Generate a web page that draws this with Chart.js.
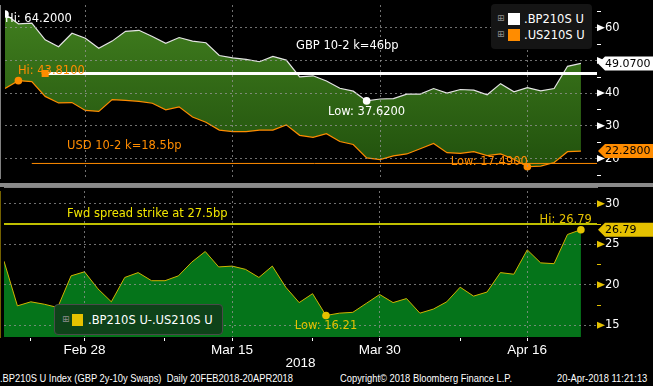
<!DOCTYPE html>
<html>
<head>
<meta charset="utf-8">
<script src="https://cdn.jsdelivr.net/npm/chart.js@4.4.1/dist/chart.umd.min.js"></script>
<style>
  body { margin:0; background:#000; width:653px; height:386px; overflow:hidden; position:relative; font-family:"DejaVu Sans", sans-serif; color:#fff; }
  canvas { position:absolute; left:0; }
  #top { top:0; }
  #bot { top:187px; }
  #sep { position:absolute; left:0; top:183px; width:653px; height:4px; background:#8a8a8a; }
  .lg { position:absolute; border-radius:4px; }
  .pl { position:absolute; font-size:9px; color:#8c8c8c; line-height:9px; }
  .sw { position:absolute; }
  .tx { position:absolute; font-size:11.5px; line-height:14px; color:#fff; }
  .ft { position:absolute; top:371px; font-family:"Liberation Sans",sans-serif; font-size:11px; line-height:15px; color:#fff;
        white-space:nowrap; transform:scaleX(0.85); transform-origin:0 50%; }
</style>
</head>
<body>
<canvas id="top" width="653" height="183"></canvas>
<div id="sep"></div>
<canvas id="bot" width="653" height="184"></canvas>

<div class="lg" style="left:491px;top:4px;width:101px;height:45px;background:#151515;"></div>
<span class="pl" style="left:497px;top:14px;">⊞</span>
<span class="sw" style="left:508px;top:13px;width:12px;height:12px;background:#fff;"></span>
<span class="tx" style="left:524px;top:12px;">.BP210S U</span>
<span class="pl" style="left:497px;top:30px;">⊞</span>
<span class="sw" style="left:508px;top:29px;width:12px;height:12px;background:#ff8c00;"></span>
<span class="tx" style="left:524px;top:28px;">.US210S U</span>

<div class="lg" style="left:54px;top:304px;width:167px;height:29px;background:#0e4219;border:1px solid #4a4a4a;"></div>
<span class="pl" style="left:62px;top:315px;">⊞</span>
<span class="sw" style="left:72px;top:314px;width:11px;height:12px;background:#e5c100;"></span>
<span class="tx" style="left:88px;top:313px;">.BP210S U-.US210S U</span>

<span class="ft" style="left:0px;">.BP210S U Index (GBP 2y-10y Swaps)&nbsp; Daily 20FEB2018-20APR2018</span>
<span class="ft" style="left:340px;">Copyright© 2018 Bloomberg Finance L.P.</span>
<span class="ft" style="left:557px;">20-Apr-2018 11:21:13</span>

<script>
// business days shown on the x axis
const dates = ['Feb 20','Feb 21','Feb 22','Feb 23','Feb 26','Feb 27','Feb 28','Mar 1','Mar 2','Mar 5','Mar 6','Mar 7','Mar 8','Mar 9',
  'Mar 12','Mar 13','Mar 14','Mar 15','Mar 16','Mar 19','Mar 20','Mar 21','Mar 22','Mar 23','Mar 26','Mar 27','Mar 28','Mar 29','Mar 30',
  'Apr 2','Apr 3','Apr 4','Apr 5','Apr 6','Apr 9','Apr 10','Apr 11','Apr 12','Apr 13','Apr 16','Apr 17','Apr 18','Apr 19','Apr 20'];

// .BP210S U (GBP 2y-10y)
const gbp = [64.20,61.2,61.4,56.3,54.2,58.3,56.8,53.7,55.9,58.9,59.2,57.3,55.2,57.0,55.9,55.4,51.5,50.8,50.3,49.6,51.2,50.1,
  45.0,45.3,43.7,41.5,40.6,37.62,38.2,38.3,39.7,39.7,41.4,40.0,41.1,40.9,39.5,42.9,40.4,41.7,40.7,41.4,48.2,49.07];
// .US210S U (USD 2y-10y)
const usd = [41.4,43.81,43.5,39.0,37.0,37.1,34.7,34.4,38.0,37.8,37.5,36.9,34.9,35.8,32.7,31.1,28.7,28.2,28.2,28.7,28.7,30.3,
  27.1,26.5,27.6,25.2,24.3,20.2,19.7,20.8,21.4,23.0,24.6,21.8,21.6,22.1,20.9,21.4,19.8,17.49,17.7,18.8,22.1,22.28];
// .BP210S U-.US210S U
const spread = [22.9,17.4,17.9,17.6,17.2,21.1,21.6,19.5,17.9,20.9,21.5,20.5,20.5,21.1,22.8,24.1,22.2,22.3,21.9,20.9,22.3,19.7,
  17.8,18.9,16.21,16.5,16.6,17.7,18.8,17.8,18.3,16.5,17.0,17.9,19.7,18.6,19.1,21.5,21.3,24.3,22.7,22.6,26.2,26.79];

const tickLabels = ['Feb 28','Mar 15','Mar 30','Apr 16'];
const minorTickLabels = ['Feb 22','Mar 8','Mar 23','Apr 9'];
const topTicks = [20,30,40,50,60];
const botTicks = [15,20,25,30];

const gbpStrike = 46, gbpStrikeFrom = 'Feb 23';
const usdStrike = 18.5, usdStrikeFrom = 'Feb 22';
const fwdStrike = 27.5;

const X_MAX = 44.2;
const FONT = '"DejaVu Sans", sans-serif';
const AXFONT = '"Liberation Sans", sans-serif';
const ORANGE = '#ff8c00', GOLD = '#e5c100', GRID = 'rgba(150,150,150,0.75)';

Chart.defaults.font.family = FONT;
Chart.defaults.animation = false;

const pts = a => a.map((v, i) => ({x: i, y: v}));
const hiIdx = a => a.indexOf(Math.max(...a));
const loIdx = a => a.indexOf(Math.min(...a));
const majorIdx = tickLabels.map(d => dates.indexOf(d));
const minorIdx = minorTickLabels.map(d => dates.indexOf(d));
const last = a => a[a.length - 1];

function fixY(s) { s.width = 56; s.paddingTop = 0; s.paddingBottom = 0; }

function topGradient(chart) {
  const a = chart.chartArea;
  if (!a) return '#356e18';
  const g = chart.ctx.createLinearGradient(0, a.top, 0, a.bottom);
  g.addColorStop(0, '#42801f');
  g.addColorStop(1, '#1f4e0c');
  return g;
}

function txt(ctx, s, x, y, color, align, size) {
  ctx.font = (size || 11.5) + 'px ' + FONT;
  ctx.fillStyle = color;
  ctx.textAlign = align || 'left';
  ctx.textBaseline = 'middle';
  ctx.fillText(s, x, y);
}

// triangles on the major ticks, short marks on the minor ones
function axisMarks(ctx, scale, step, color) {
  const x = scale.left;
  ctx.fillStyle = color; ctx.strokeStyle = color; ctx.lineWidth = 1;
  const major = scale.ticks.map(t => t.value);
  major.forEach(v => {
    const y = scale.getPixelForValue(v);
    ctx.beginPath(); ctx.moveTo(x, y - 3.5); ctx.lineTo(x + 8, y); ctx.lineTo(x, y + 3.5); ctx.closePath(); ctx.fill();
  });
  for (let v = Math.ceil(scale.min / step) * step; v <= scale.max; v += step) {
    if (major.includes(v)) continue;
    const y = Math.round(scale.getPixelForValue(v)) + 0.5;
    ctx.beginPath(); ctx.moveTo(x, y); ctx.lineTo(x + 4, y); ctx.stroke();
  }
}

function valueBox(ctx, scale, v, s, fill) {
  const y = scale.getPixelForValue(v), x = scale.left + 1;
  ctx.fillStyle = fill;
  ctx.beginPath();
  ctx.moveTo(x, y); ctx.lineTo(x + 7, y - 7); ctx.lineTo(653, y - 7); ctx.lineTo(653, y + 7); ctx.lineTo(x + 7, y + 7);
  ctx.closePath(); ctx.fill();
  txt(ctx, s, x + 7, y + 0.5, '#000', 'left', 11);
}

const topDeco = {
  id: 'topDeco',
  afterDraw(chart) {
    const {ctx, scales: {x, y}} = chart;
    ctx.save();
    axisMarks(ctx, y, 5, '#fff');
    valueBox(ctx, y, last(gbp), last(gbp).toFixed(4), '#fff');
    valueBox(ctx, y, last(usd), last(usd).toFixed(4), ORANGE);
    const gh = hiIdx(gbp), gl = loIdx(gbp), uh = hiIdx(usd), ul = loIdx(usd);
    txt(ctx, 'Hi: ' + gbp[gh].toFixed(4), x.getPixelForValue(gh), y.getPixelForValue(gbp[gh]) + 5.5, '#fff');
    txt(ctx, 'Low: ' + gbp[gl].toFixed(4), x.getPixelForValue(gl), y.getPixelForValue(gbp[gl]) + 11, '#fff', 'center');
    txt(ctx, 'Hi: ' + usd[uh].toFixed(4), x.getPixelForValue(uh) - 0.5, y.getPixelForValue(usd[uh]) - 10, ORANGE);
    txt(ctx, 'Low: ' + usd[ul].toFixed(4), x.getPixelForValue(ul) + 0.5, y.getPixelForValue(usd[ul]) - 5, ORANGE, 'right');
    txt(ctx, 'GBP 10-2 k=' + gbpStrike + 'bp', 296, y.getPixelForValue(gbpStrike) - 27, '#fff');
    txt(ctx, 'USD 10-2 k=' + usdStrike + 'bp', 67, y.getPixelForValue(usdStrike) - 17, ORANGE);
    ctx.restore();
  }
};

const botDeco = {
  id: 'botDeco',
  afterDraw(chart) {
    const {ctx, scales: {x, y}} = chart;
    ctx.save();
    axisMarks(ctx, y, 2.5, GOLD);
    valueBox(ctx, y, last(spread), last(spread).toFixed(2), GOLD);
    const h = hiIdx(spread), l = loIdx(spread);
    txt(ctx, 'Fwd spread strike at ' + fwdStrike + 'bp', 67, y.getPixelForValue(fwdStrike) - 10, '#f2e600');
    txt(ctx, 'Hi: ' + spread[h].toFixed(2), x.getPixelForValue(h) + 11, y.getPixelForValue(spread[h]) - 10, GOLD, 'right');
    txt(ctx, 'Low: ' + spread[l].toFixed(2), x.getPixelForValue(l), y.getPixelForValue(spread[l]) + 11, GOLD, 'center');
    ctx.restore();
  }
};

const lineBase = {pointRadius: 0, tension: 0, fill: false};

new Chart(document.getElementById('top'), {
  type: 'line',
  data: {
    datasets: [
      {...lineBase, data: pts(usd), borderColor: ORANGE, borderWidth: 1.2, order: 2},
      {...lineBase, data: pts(gbp), borderColor: '#e4e4e4', borderWidth: 1.2, fill: '-1',
        backgroundColor: c => topGradient(c.chart), order: 3},
      {...lineBase, data: [{x: dates.indexOf(gbpStrikeFrom), y: gbpStrike}, {x: X_MAX, y: gbpStrike}],
        borderColor: '#fff', borderWidth: 3, pointRadius: [5, 0], pointStyle: 'rect',
        pointBackgroundColor: ORANGE, pointBorderWidth: 0, order: 1},
      {...lineBase, data: [{x: dates.indexOf(usdStrikeFrom), y: usdStrike}, {x: X_MAX, y: usdStrike}],
        borderColor: ORANGE, borderWidth: 1, order: 1},
      {...lineBase, showLine: false, data: [hiIdx(gbp), loIdx(gbp)].map(i => ({x: i, y: gbp[i]})),
        pointRadius: 3.8, pointBackgroundColor: '#fff', pointBorderWidth: 0, order: 0},
      {...lineBase, showLine: false, data: [hiIdx(usd), loIdx(usd)].map(i => ({x: i, y: usd[i]})),
        pointRadius: 3.8, pointBackgroundColor: ORANGE, pointBorderWidth: 0, order: 0}
    ]
  },
  options: {
    responsive: false,
    layout: {padding: 0},
    plugins: {legend: {display: false}, tooltip: {enabled: false}},
    scales: {
      x: {
        type: 'linear', min: 0, max: X_MAX,
        afterBuildTicks: s => { s.ticks = majorIdx.map(v => ({value: v})); },
        afterFit: s => { s.height = 0; s.paddingLeft = 0; s.paddingRight = 0; },
        ticks: {display: false},
        grid: {color: GRID, drawTicks: false, z: 1},
        border: {display: false, dash: [2, 3]}
      },
      y: {
        position: 'right', min: 14.05, max: 66.94,
        afterBuildTicks: s => { s.ticks = topTicks.map(v => ({value: v})); },
        afterFit: fixY,
        // the 50 label sits under the last-value box
        ticks: {color: '#fff', font: {family: FONT, size: 11.5}, padding: 8,
          callback: v => Math.abs(v - last(gbp)) < 2.6 ? '' : v},
        grid: {color: GRID, drawTicks: false, z: 1},
        border: {color: '#fff', dash: [2, 3]}
      }
    }
  },
  plugins: [topDeco]
});

new Chart(document.getElementById('bot'), {
  type: 'line',
  data: {
    datasets: [
      {...lineBase, data: pts(spread), borderColor: '#cfb400', borderWidth: 1, fill: 'start',
        backgroundColor: '#05741a', order: 3},
      {...lineBase, data: [{x: 0, y: fwdStrike}, {x: X_MAX, y: fwdStrike}], borderColor: '#ffff00', borderWidth: 1.5, order: 1},
      {...lineBase, showLine: false, data: [hiIdx(spread), loIdx(spread)].map(i => ({x: i, y: spread[i]})),
        pointRadius: 3.8, pointBackgroundColor: GOLD, pointBorderWidth: 0, order: 0}
    ]
  },
  options: {
    responsive: false,
    layout: {padding: 0},
    plugins: {legend: {display: false}, tooltip: {enabled: false}},
    scales: {
      x: {
        type: 'linear', min: 0, max: X_MAX,
        afterBuildTicks: s => { s.ticks = [...majorIdx, ...minorIdx].sort((a, b) => a - b).map(v => ({value: v})); },
        afterFit: s => { s.height = 34; s.paddingLeft = 0; s.paddingRight = 0; },
        ticks: {autoSkip: false, maxRotation: 0, color: '#fff', font: {family: AXFONT, size: 13.5}, padding: 1,
          callback: v => majorIdx.includes(v) ? dates[v] : ''},
        grid: {color: c => (c.tick && majorIdx.includes(c.tick.value)) ? GRID : 'transparent',
          tickColor: '#fff', tickLength: 4, z: 1},
        border: {color: '#fff', dash: [2, 3]},
        title: {display: true, text: '2018', color: '#fff', font: {family: AXFONT, size: 13.5}, padding: 0}
      },
      y: {
        position: 'right', min: 13.56, max: 31.56,
        afterBuildTicks: s => { s.ticks = botTicks.map(v => ({value: v})); },
        afterFit: fixY,
        ticks: {color: '#fff', font: {family: FONT, size: 11.5}, padding: 8, autoSkip: false},
        grid: {color: GRID, drawTicks: false, z: 1},
        border: {color: GOLD, dash: [2, 3]}
      }
    }
  },
  plugins: [botDeco]
});
</script>
</body>
</html>
